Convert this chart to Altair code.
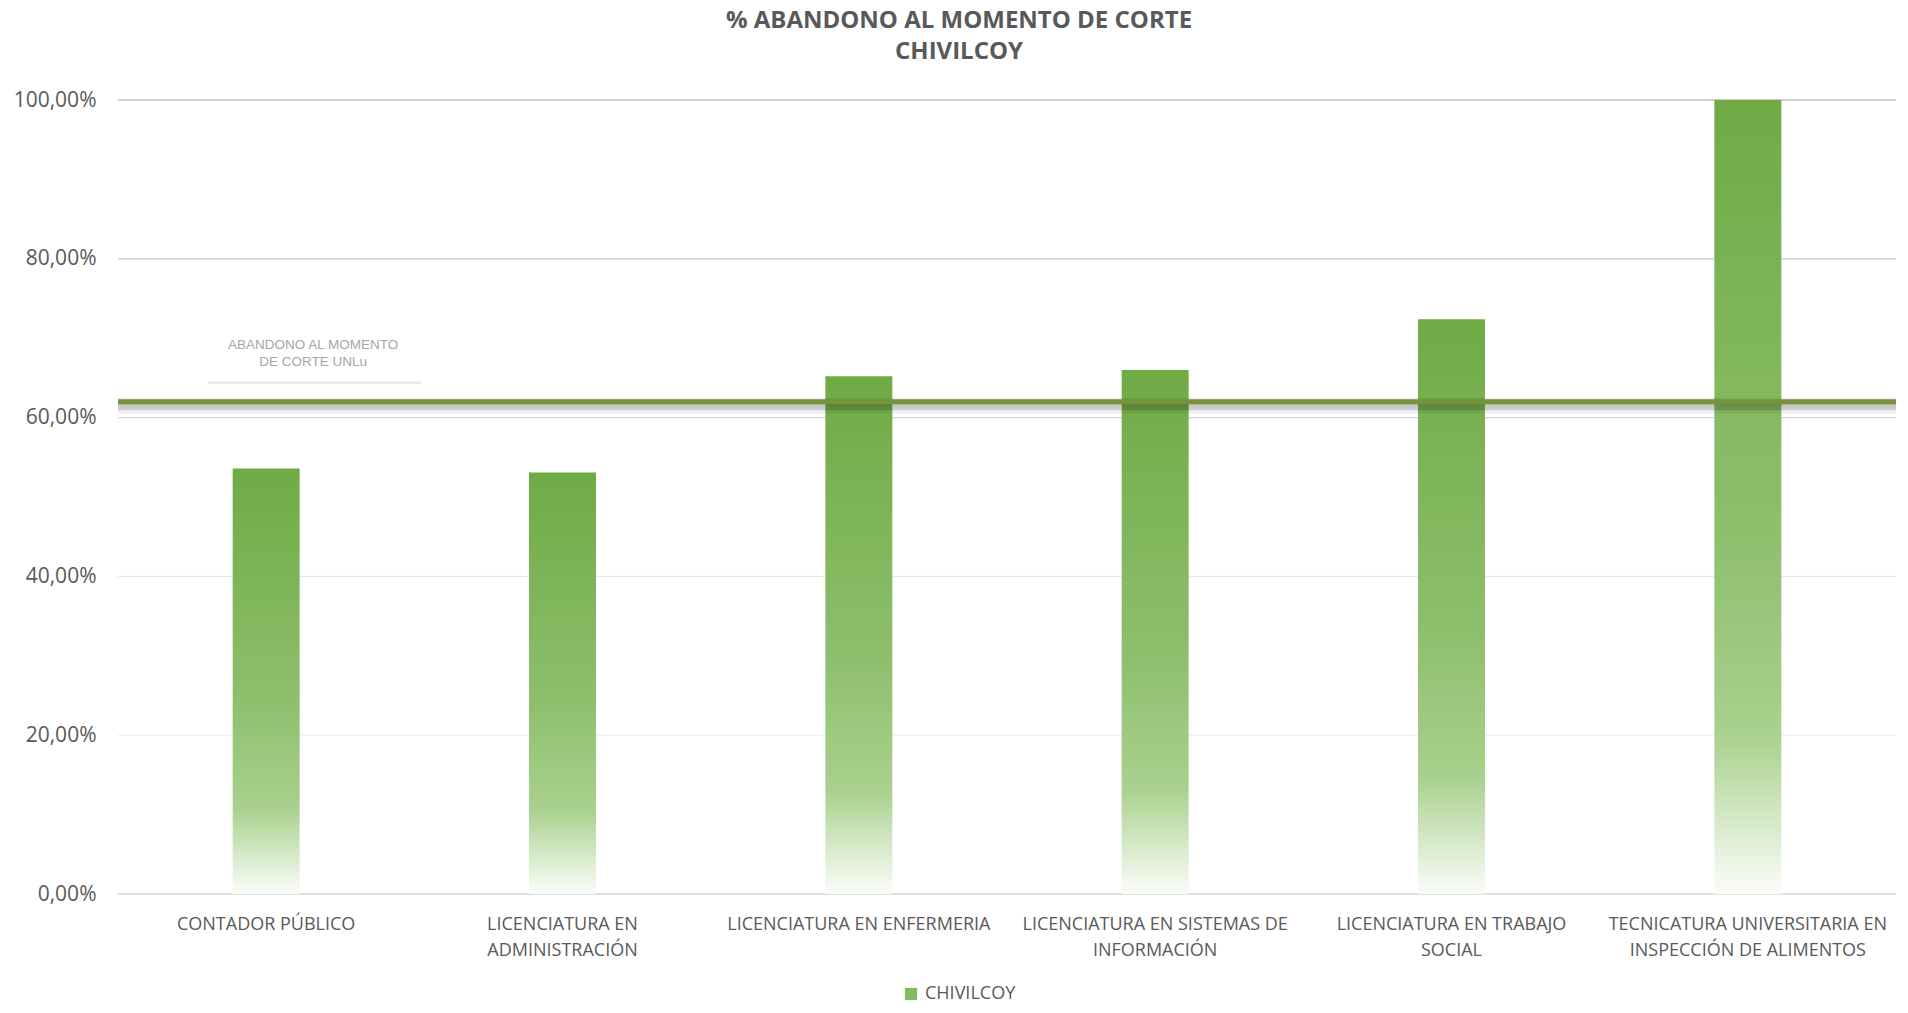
import altair as alt
import pandas as pd

categories = [
    "CONTADOR PÚBLICO",
    "LICENCIATURA EN|ADMINISTRACIÓN",
    "LICENCIATURA EN ENFERMERIA",
    "LICENCIATURA EN SISTEMAS DE|INFORMACIÓN",
    "LICENCIATURA EN TRABAJO|SOCIAL",
    "TECNICATURA UNIVERSITARIA EN|INSPECCIÓN DE ALIMENTOS",
]
values = [53.6, 53.1, 65.2, 66.0, 72.4, 100.0]
series_name = "CHIVILCOY"
ref_value = 62.0
ref_label = ["ABANDONO AL MOMENTO", "DE CORTE UNLu"]
grid_values = [0, 20, 40, 60, 80, 100]
grid_colors = ["#d6d6d6", "#efefef", "#e9e9e9", "#d4d4d4", "#c8c8c8", "#c0c0c0"]

FONT = "Open Sans"
GRAY = "#595959"

df = pd.DataFrame({"cat": categories, "val": values, "serie": [series_name] * len(values)})
grid_df = pd.DataFrame({"v": grid_values, "gc": grid_colors})
ref_df = pd.DataFrame({"cat": [categories[0]], "v": [ref_value], "lab": [ref_label]})

xscale = alt.Scale(domain=categories, paddingInner=0.774, paddingOuter=0.387)
yscale = alt.Scale(domain=[0, 100], nice=False)

x_enc = alt.X(
    "cat:N",
    scale=xscale,
    sort=categories,
    axis=alt.Axis(
        title=None,
        labelAngle=0,
        labelExpr="split(datum.label, '|')",
        labelFont=FONT,
        labelFontSize=18,
        labelColor=GRAY,
        labelLineHeight=26,
        labelPadding=21,
        labelBaseline="top",
        labelLimit=0,
        labelOverlap=False,
        ticks=False,
        domain=False,
        grid=False,
    ),
)
y_axis = alt.Axis(
    title=None,
    values=grid_values,
    labelExpr="replace(format(datum.value, '.2f'), '.', ',') + '%'",
    labelFont=FONT,
    labelFontSize=21,
    labelColor=GRAY,
    labelPadding=22,
    ticks=False,
    domain=False,
    grid=False,
)

grid = alt.Chart(grid_df).mark_rule(strokeWidth=1.3).encode(
    y=alt.Y("v:Q", scale=yscale, axis=y_axis),
    color=alt.Color("gc:N", scale=None),
)

gradient = alt.Gradient(
    gradient="linear",
    x1=0, y1=0, x2=0, y2=1,
    stops=[
        alt.GradientStop(offset=0, color="#6eab45"),
        alt.GradientStop(offset=0.55, color="#8ebf6d"),
        alt.GradientStop(offset=0.8, color="#a9d18e"),
        alt.GradientStop(offset=1, color="#fbfdf9"),
    ],
)

bars = alt.Chart(df).mark_bar(color=gradient).encode(
    x=x_enc,
    y=alt.Y("val:Q", scale=yscale),
)

legend_layer = alt.Chart(df).mark_square(size=0, opacity=1).encode(
    x=alt.X("cat:N", scale=xscale, sort=categories),
    y=alt.Y("val:Q", scale=yscale),
    color=alt.Color(
        "serie:N",
        scale=alt.Scale(domain=[series_name], range=["#84bb62"]),
        legend=alt.Legend(
            title=None,
            orient="none",
            legendX=784,
            legendY=885,
            symbolType="square",
            symbolSize=150,
            symbolOpacity=1,
            symbolStrokeWidth=0,
            labelFont=FONT,
            labelFontSize=18,
            labelColor=GRAY,
            labelOffset=5,
        ),
    ),
)

label_shadow = alt.Chart(ref_df).mark_rule(
    strokeWidth=3, color="#ececec", xOffset=-58, x2Offset=155, yOffset=-19
).encode(
    x=alt.X("cat:N", scale=xscale, sort=categories),
    x2=alt.X2("cat:N"),
    y=alt.Y("v:Q", scale=yscale),
)
ref_halo = alt.Chart(ref_df).mark_rule(strokeWidth=8, color="#000000", opacity=0.07).encode(
    y=alt.Y("v:Q", scale=yscale)
)
ref_shadow2 = alt.Chart(ref_df).mark_rule(
    strokeWidth=10, color="#000000", opacity=0.06, yOffset=7
).encode(y=alt.Y("v:Q", scale=yscale))
ref_shadow = alt.Chart(ref_df).mark_rule(
    strokeWidth=6, color="#000000", opacity=0.15, yOffset=5.5
).encode(y=alt.Y("v:Q", scale=yscale))
ref_line = alt.Chart(ref_df).mark_rule(strokeWidth=5, color="#76933c").encode(
    y=alt.Y("v:Q", scale=yscale)
)
ref_text = alt.Chart(ref_df).mark_text(
    font="Liberation Sans",
    fontSize=13.5,
    color="#a6a6a6",
    align="center",
    baseline="bottom",
    lineHeight=17,
    dx=47,
    dy=-50,
).encode(
    x=alt.X("cat:N", scale=xscale, sort=categories),
    y=alt.Y("v:Q", scale=yscale),
    text="lab",
)

chart = alt.layer(
    grid, bars, legend_layer, label_shadow, ref_halo, ref_shadow2, ref_shadow, ref_line, ref_text
).properties(
    width=1778,
    height=794,
    autosize=alt.AutoSizeParams(type="none"),
    padding={"left": 110, "top": 92, "right": 4, "bottom": 111},
    title=alt.TitleParams(
        text=["% ABANDONO AL MOMENTO DE CORTE", "CHIVILCOY"],
        font=FONT,
        fontSize=24,
        fontWeight="bold",
        color=GRAY,
        anchor="middle",
        dx=-48,
        offset=25,
        lineHeight=31,
    ),
).configure_view(stroke=None)

chart.save("out.html", embed_options={"renderer": "svg", "actions": False})
